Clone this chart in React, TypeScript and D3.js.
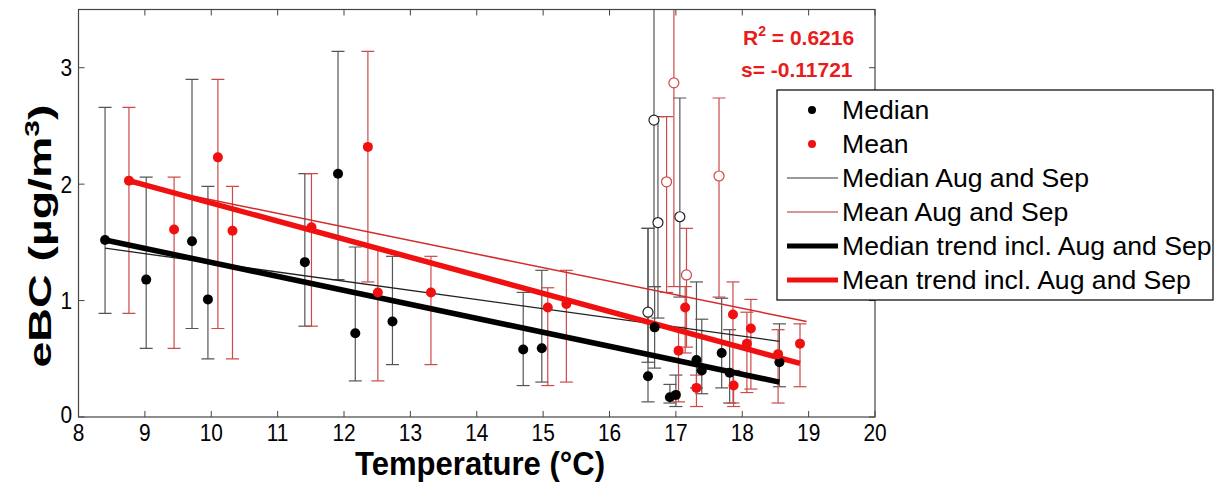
import React from 'react';
import * as d3 from 'd3';

// ---------- data ----------
const xTickValues = [8, 9, 10, 11, 12, 13, 14, 15, 16, 17, 18, 19, 20];
const yTickValues = [0, 1, 2, 3];

// Median (filled black)
const medianT = [8.40, 9.02, 9.71, 9.95, 11.41, 11.91, 12.17, 12.73, 14.70, 14.98, 16.58, 16.68, 16.91, 17.00, 17.31, 17.39, 17.69, 17.81, 18.56];
const medianV = [1.52, 1.18, 1.51, 1.01, 1.33, 2.09, 0.72, 0.82, 0.58, 0.59, 0.35, 0.77, 0.17, 0.19, 0.49, 0.40, 0.55, 0.38, 0.47];
const medianLo = [0.89, 0.59, 0.76, 0.50, 0.78, 1.18, 0.31, 0.45, 0.27, 0.30, 0.13, 0.42, 0.12, 0.09, 0.25, 0.20, 0.25, 0.12, 0.26];
const medianHi = [2.66, 2.06, 2.90, 1.98, 2.09, 3.14, 1.46, 1.38, 1.07, 1.26, 1.62, 1.12, 0.28, 0.36, 1.16, 0.84, 1.02, 0.75, 0.80];

// Mean (filled red)
const meanT = [8.76, 9.44, 10.10, 10.32, 11.51, 12.36, 12.51, 13.31, 15.07, 15.35, 17.04, 17.14, 17.31, 17.86, 17.87, 18.07, 18.13, 18.54, 18.87];
const meanV = [2.03, 1.61, 2.23, 1.60, 1.63, 2.32, 1.07, 1.07, 0.94, 0.97, 0.57, 0.94, 0.25, 0.88, 0.27, 0.63, 0.76, 0.54, 0.63];
const meanLo = [0.89, 0.59, 0.76, 0.50, 0.78, 1.16, 0.31, 0.45, 0.27, 0.30, 0.13, 0.55, 0.09, 0.12, 0.09, 0.21, 0.24, 0.12, 0.26];
const meanHi = [2.66, 2.06, 2.90, 1.98, 2.09, 3.14, 1.45, 1.38, 1.11, 1.26, 0.77, 1.12, 0.36, 1.16, 0.40, 0.90, 1.01, 0.75, 0.80];

// Median Aug and Sep (open black)
const medianAugT = [16.58, 16.67, 16.73, 17.06];
const medianAugV = [0.90, 2.55, 1.67, 1.72];
const medianAugLo = [0.47, 1.12, 0.85, 1.03];
const medianAugHi = [1.62, 4.20, 2.58, 2.74];

// Mean Aug and Sep (open red)
const meanAugT = [16.86, 16.97, 17.16, 17.65];
const meanAugV = [2.02, 2.87, 1.22, 2.07];
const meanAugLo = [1.07, 1.12, 0.60, 1.03];
const meanAugHi = [2.58, 4.50, 1.62, 2.74];

// Trend lines [temperature, eBC]
const medianAugLine: [number, number][] = [[8.40, 1.45], [18.56, 0.65]];
const meanAugLine: [number, number][] = [[8.76, 2.01], [18.97, 0.82]];
const medianTrendLine: [number, number][] = [[8.40, 1.52], [18.56, 0.30]];
const meanTrendLine: [number, number][] = [[8.76, 2.03], [18.87, 0.46]];

const legendLabels = ['Median', 'Mean', 'Median Aug and Sep', 'Mean Aug and Sep', 'Median trend incl. Aug and Sep', 'Mean trend incl. Aug and Sep'];

// ---------- styles ----------
const BLACK_BAR = '#555555';
const RED_BAR = '#cc4a4a';
const RED = '#f01010';
const AXIS = '#444444';
const FONT = 'Liberation Sans, Arial, sans-serif';

export default function App() {
  const left = 78.5, right = 875, top = 9.5, bottom = 417;
  const x = d3.scaleLinear().domain([8, 20]).range([left, right]);
  const y = d3.scaleLinear().domain([0, 3.5]).range([bottom, top]);
  const line = d3.line<[number, number]>().x(d => x(d[0])).y(d => y(d[1]));

  const errBars = (T: number[], lo: number[], hi: number[], color: string, key: string) =>
    T.map((t, i) => {
      const cx = x(t);
      return (
        <g key={key + i} stroke={color} strokeWidth={1.2}>
          <line x1={cx} x2={cx} y1={y(lo[i])} y2={y(hi[i])} />
          <line x1={cx - 6.5} x2={cx + 6.5} y1={y(lo[i])} y2={y(lo[i])} />
          <line x1={cx - 6.5} x2={cx + 6.5} y1={y(hi[i])} y2={y(hi[i])} />
        </g>
      );
    });

  const legendY = [110, 144, 178, 212, 246, 280];

  return (
    <svg width={1215} height={490} style={{ position: 'absolute', left: 0, top: 0, background: '#fff' }} fontFamily={FONT}>
      <defs>
        <clipPath id="plotClip">
          <rect x={left} y={top} width={right - left} height={bottom - top} />
        </clipPath>
      </defs>
      <rect x={0} y={0} width={1215} height={490} fill="#fff" />

      <g clipPath="url(#plotClip)">
        {errBars(medianT, medianLo, medianHi, BLACK_BAR, 'mb')}
        {errBars(medianAugT, medianAugLo, medianAugHi, BLACK_BAR, 'mab')}
        {errBars(meanT, meanLo, meanHi, RED_BAR, 'rb')}
        {errBars(meanAugT, meanAugLo, meanAugHi, RED_BAR, 'rab')}

        <path d={line(medianAugLine) || ''} stroke="#222" strokeWidth={1.3} fill="none" />
        <path d={line(meanAugLine) || ''} stroke="#d42a2a" strokeWidth={1.5} fill="none" />
        <path d={line(medianTrendLine) || ''} stroke="#000" strokeWidth={5.5} fill="none" />
        <path d={line(meanTrendLine) || ''} stroke={RED} strokeWidth={5.5} fill="none" />

        {medianAugT.map((t, i) => (
          <circle key={'mo' + i} cx={x(t)} cy={y(medianAugV[i])} r={5} fill="#fff" stroke="#222" strokeWidth={1.2} />
        ))}
        {meanAugT.map((t, i) => (
          <circle key={'ro' + i} cx={x(t)} cy={y(meanAugV[i])} r={5} fill="#fff" stroke="#cc4a4a" strokeWidth={1.2} />
        ))}
        {medianT.map((t, i) => (
          <circle key={'m' + i} cx={x(t)} cy={y(medianV[i])} r={5} fill="#000" />
        ))}
        {meanT.map((t, i) => (
          <circle key={'r' + i} cx={x(t)} cy={y(meanV[i])} r={5} fill={RED} />
        ))}
      </g>

      {/* axes box */}
      <rect x={left} y={top} width={right - left} height={bottom - top} fill="none" stroke={AXIS} strokeWidth={1.2} />
      {xTickValues.map(v => (
        <g key={'xt' + v}>
          <line x1={x(v)} x2={x(v)} y1={bottom} y2={bottom - 6} stroke={AXIS} />
          <line x1={x(v)} x2={x(v)} y1={top} y2={top + 6} stroke={AXIS} />
          <text transform={`translate(${x(v)},441) scale(0.87,1)`} textAnchor="middle" fontSize={24} fill="#000">{v}</text>
        </g>
      ))}
      {yTickValues.map(v => (
        <g key={'yt' + v}>
          <line x1={left} x2={left + 6} y1={y(v)} y2={y(v)} stroke={AXIS} />
          <line x1={right} x2={right - 6} y1={y(v)} y2={y(v)} stroke={AXIS} />
          <text transform={`translate(72,${y(v) - (v === 0 ? 3 : 0) + 8.5}) scale(0.87,1)`} textAnchor="end" fontSize={24} fill="#000">{v}</text>
        </g>
      ))}

      {/* axis labels */}
      <text x={480} y={475} textAnchor="middle" fontSize={33} fontWeight="bold" textLength={250} lengthAdjust="spacingAndGlyphs" fill="#000">Temperature (°C)</text>
      <text transform="translate(51,236) rotate(-90) scale(1.5,1)" textAnchor="middle" fontSize={31} fontWeight="bold" fill="#000">
        eBC (µg/m<tspan dy={-12} fontSize={20}>3</tspan><tspan dy={12}>)</tspan>
      </text>

      {/* R2 annotation */}
      <text x={743} y={45} fontSize={21} fontWeight="bold" fill="#e81c1c">
        R<tspan dy={-9} fontSize={14}>2</tspan><tspan dy={9}> = 0.6216</tspan>
      </text>
      <text x={741} y={77} fontSize={21} fontWeight="bold" fill="#e81c1c">s= -0.11721</text>

      {/* legend */}
      <rect x={777} y={90} width={436} height={210} fill="#fff" stroke="#000" strokeWidth={1.2} />
      <circle cx={812} cy={legendY[0]} r={4} fill="#000" />
      <circle cx={812} cy={legendY[1]} r={4} fill={RED} />
      <line x1={787} x2={838} y1={legendY[2]} y2={legendY[2]} stroke="#777" strokeWidth={1.3} />
      <line x1={787} x2={838} y1={legendY[3]} y2={legendY[3]} stroke="#c87070" strokeWidth={1.3} />
      <line x1={787} x2={838} y1={legendY[4]} y2={legendY[4]} stroke="#000" strokeWidth={5} />
      <line x1={787} x2={838} y1={legendY[5]} y2={legendY[5]} stroke={RED} strokeWidth={5} />
      {legendLabels.map((lab, i) => (
        <text key={'lg' + i} x={842} y={legendY[i] + 9} fontSize={26.6} fill="#000">{lab}</text>
      ))}
    </svg>
  );
}
